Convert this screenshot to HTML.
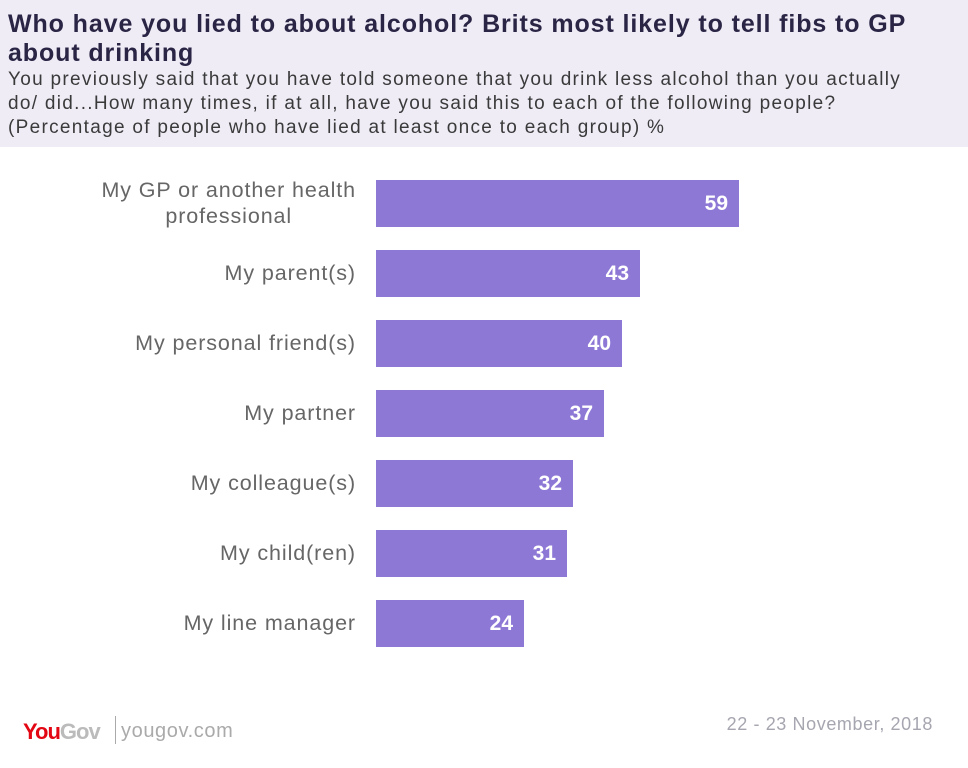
<!DOCTYPE html>
<html><head><meta charset="utf-8"><style>
body{margin:0;width:968px;height:768px;background:#fff;font-family:"Liberation Sans",sans-serif;position:relative;overflow:hidden}
.hdr{position:absolute;left:0;top:0;width:968px;height:147px;background:#efecf6}
.t{position:absolute;left:8px;top:10px;font-size:25px;font-weight:bold;color:#2b2545;line-height:29px;white-space:nowrap;letter-spacing:0.9px}
.s{position:absolute;left:8px;top:68px;font-size:19px;color:#3a3a3a;line-height:24px;white-space:nowrap;letter-spacing:1.3px}
.lab{position:absolute;right:612px;text-align:right;font-size:21.5px;color:#666;line-height:26px;letter-spacing:0.9px;white-space:nowrap}
.bar{position:absolute;left:376px;height:47px;background:#8e78d6}
.v{position:absolute;right:11px;top:12px;color:#fff;font-weight:bold;font-size:21px}
</style></head><body>
<div class="hdr"></div>
<div class="t">Who have you lied to about alcohol? Brits most likely to tell fibs to GP<br>about drinking</div>
<div class="s">You previously said that you have told someone that you drink less alcohol than you actually<br>do/ did...How many times, if at all, have you said this to each of the following people?<br>(Percentage of people who have lied at least once to each group) %</div>

<div class="lab" style="top:177px;text-align:center">My GP or another health<br>professional</div>
<div class="bar" style="top:180px;width:363px"><span class="v">59</span></div>
<div class="lab" style="top:260px">My parent(s)</div>
<div class="bar" style="top:250px;width:264px"><span class="v">43</span></div>
<div class="lab" style="top:330px">My personal friend(s)</div>
<div class="bar" style="top:320px;width:246px"><span class="v">40</span></div>
<div class="lab" style="top:400px">My partner</div>
<div class="bar" style="top:390px;width:228px"><span class="v">37</span></div>
<div class="lab" style="top:470px">My colleague(s)</div>
<div class="bar" style="top:460px;width:197px"><span class="v">32</span></div>
<div class="lab" style="top:540px">My child(ren)</div>
<div class="bar" style="top:530px;width:191px"><span class="v">31</span></div>
<div class="lab" style="top:610px">My line manager</div>
<div class="bar" style="top:600px;width:148px"><span class="v">24</span></div>

<div style="position:absolute;left:23px;top:719px;font-size:22px;font-weight:bold;color:#e30613;letter-spacing:-1px">You<span style="color:#bbb">Gov</span></div>
<div style="position:absolute;left:115px;top:716px;width:1px;height:28px;background:#aaa"></div>
<div style="position:absolute;left:121px;top:720px;font-size:20px;color:#aaa;letter-spacing:0.6px">yougov.com</div>
<div style="position:absolute;right:35px;top:714px;font-size:18px;color:#a6a6b0;letter-spacing:0.6px">22 - 23 November, 2018</div>
</body></html>
